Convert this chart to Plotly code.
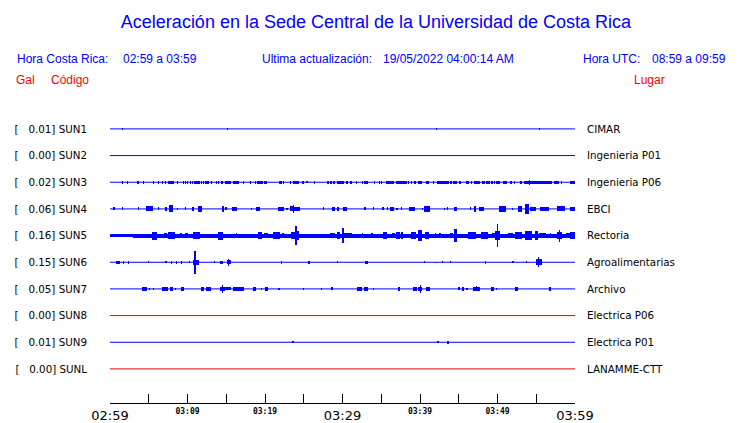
import plotly.graph_objects as go

# ---------------- data ----------------
stations = ["SUN1", "SUN2", "SUN3", "SUN4", "SUN5", "SUN6", "SUN7", "SUN8", "SUN9", "SUNL"]
peak_gal = [0.01, 0.00, 0.02, 0.06, 0.16, 0.15, 0.05, 0.00, 0.01, 0.00]
places = ["CIMAR", "Ingenieria P01", "Ingenieria P06", "EBCI", "Rectoria",
          "Agroalimentarias", "Archivo", "Electrica P06", "Electrica P01", "LANAMME-CTT"]
offline = ["SUN8", "SUNL"]

# time axis: minutes after 02:59 (local)
time_ticks = [0, 5, 10, 15, 20, 25, 30, 35, 40, 45, 50, 55, 60]
major_tick_labels = ["02:59", "", "", "", "", "", "03:29", "", "", "", "", "", "03:59"]
minor_label_times = [10, 20, 40, 50]
minor_tick_labels = ["03:09", "03:19", "03:39", "03:49"]

# bursts: (start min, end min, half amplitude in Gal)
sun1_events = [(1.61, 1.61, 0.017), (15.16, 15.16, 0.017), (42.13, 42.13, 0.017), (55.42, 55.42, 0.017)]
sun2_events = []
sun3_events = [
    (1.59, 1.59, 0.02), (2.23, 2.23, 0.02), (3.45, 3.69, 0.023), (4.30, 4.30, 0.02), (5.59, 5.59, 0.02),
    (6.23, 6.23, 0.02), (6.75, 6.75, 0.02), (7.14, 7.14, 0.02), (7.48, 8.26, 0.023), (8.74, 8.74, 0.02),
    (9.46, 9.46, 0.02), (9.72, 9.72, 0.02), (9.97, 9.97, 0.02), (10.36, 10.36, 0.02), (10.62, 10.62, 0.02),
    (10.84, 11.61, 0.023), (11.83, 11.83, 0.02), (12.09, 12.09, 0.02), (12.30, 12.81, 0.023),
    (13.12, 13.12, 0.02), (13.77, 13.77, 0.02), (14.03, 14.03, 0.02), (14.28, 14.53, 0.023),
    (14.84, 15.57, 0.023), (15.90, 16.61, 0.023), (17.25, 17.25, 0.02), (18.10, 18.10, 0.02),
    (18.75, 18.75, 0.02), (19.10, 19.10, 0.02), (19.35, 19.35, 0.02), (19.61, 19.61, 0.02),
    (19.91, 20.28, 0.023), (21.81, 22.23, 0.023), (22.41, 22.41, 0.02), (23.26, 23.26, 0.02),
    (23.57, 24.35, 0.023), (24.90, 24.90, 0.02), (25.42, 25.42, 0.015), (26.36, 26.36, 0.02),
    (28.13, 28.13, 0.02), (28.52, 28.52, 0.02), (28.81, 29.03, 0.023), (29.29, 30.23, 0.023),
    (30.41, 30.75, 0.023), (31.10, 31.10, 0.02), (31.83, 31.83, 0.02), (32.61, 32.61, 0.02),
    (32.81, 33.33, 0.023), (34.10, 34.10, 0.02), (34.75, 34.75, 0.02), (35.06, 35.06, 0.02),
    (35.65, 36.65, 0.023), (36.90, 38.28, 0.023), (38.54, 38.54, 0.02), (38.93, 38.93, 0.02),
    (39.35, 39.35, 0.02), (39.70, 40.30, 0.023), (40.77, 41.20, 0.023), (41.77, 41.77, 0.02),
    (42.19, 43.74, 0.023), (44.00, 44.00, 0.02), (44.22, 44.81, 0.023), (45.16, 45.16, 0.02),
    (45.90, 46.32, 0.023), (46.62, 46.62, 0.02), (46.97, 47.78, 0.023), (48.03, 48.39, 0.023),
    (48.55, 48.99, 0.023), (49.29, 49.29, 0.02), (49.59, 49.59, 0.02), (49.85, 50.36, 0.023),
    (50.71, 51.26, 0.023), (51.57, 51.91, 0.023), (52.22, 52.22, 0.02), (52.86, 53.20, 0.023),
    (53.38, 57.07, 0.023), (54.15, 54.15, 0.035), (57.33, 57.94, 0.023), (58.23, 58.23, 0.02),
    (59.32, 60.0, 0.023),
]
sun4_events = [
    (0.52, 0.52, 0.02), (1.59, 1.59, 0.02), (3.65, 3.65, 0.02), (4.68, 5.50, 0.036), (6.23, 6.23, 0.02),
    (7.14, 7.35, 0.025), (7.65, 8.17, 0.05), (8.74, 8.74, 0.015), (9.72, 9.72, 0.02), (10.54, 10.88, 0.031),
    (11.32, 11.91, 0.044), (14.41, 14.75, 0.04), (14.84, 15.06, 0.02), (15.70, 16.39, 0.023),
    (18.23, 18.23, 0.015), (18.88, 19.35, 0.023), (21.72, 22.49, 0.023), (22.84, 22.84, 0.015),
    (23.23, 23.55, 0.035), (23.55, 23.77, 0.057), (23.77, 24.48, 0.03), (27.57, 27.57, 0.02),
    (28.68, 29.03, 0.03), (29.29, 29.55, 0.031), (30.10, 30.58, 0.027), (32.81, 33.03, 0.02),
    (34.01, 34.01, 0.02), (35.06, 35.35, 0.02), (35.83, 35.83, 0.02), (36.09, 36.68, 0.031),
    (37.03, 37.03, 0.017), (37.63, 37.63, 0.02), (38.58, 39.35, 0.031), (40.30, 40.30, 0.015),
    (40.55, 41.25, 0.04), (43.14, 43.14, 0.015), (43.52, 43.52, 0.02), (44.39, 44.73, 0.031),
    (46.49, 46.49, 0.02), (46.93, 47.27, 0.04), (47.61, 48.28, 0.031), (50.19, 51.06, 0.04),
    (51.91, 51.91, 0.015), (52.68, 53.20, 0.047), (53.55, 54.06, 0.067), (54.23, 54.92, 0.031),
    (55.45, 56.65, 0.027), (57.68, 58.67, 0.036), (59.32, 60.0, 0.031),
]
sun5_events = [
    (0.0, 3.0, 0.018), (3.0, 60.0, 0.027),
    (5.38, 6.01, 0.057), (7.01, 7.30, 0.036), (7.43, 8.39, 0.049), (9.03, 9.32, 0.036),
    (9.68, 10.10, 0.036), (10.75, 11.61, 0.044), (13.97, 14.62, 0.057), (16.35, 16.35, 0.031),
    (19.14, 19.65, 0.049), (19.91, 20.43, 0.031), (21.07, 21.94, 0.053), (22.23, 22.49, 0.031),
    (23.35, 23.81, 0.05), (23.81, 24.19, 0.129), (24.19, 24.39, 0.06), (28.39, 29.03, 0.036),
    (29.29, 29.72, 0.047), (29.90, 30.15, 0.107), (30.23, 30.58, 0.04), (30.58, 31.18, 0.036),
    (32.48, 32.68, 0.036), (33.68, 33.97, 0.04), (35.26, 35.70, 0.044), (36.35, 36.77, 0.036),
    (36.86, 37.42, 0.049), (37.55, 37.84, 0.044), (38.80, 39.45, 0.053), (39.70, 40.30, 0.08),
    (40.65, 41.16, 0.049), (42.03, 42.03, 0.033), (42.58, 42.58, 0.03), (43.87, 44.30, 0.04),
    (44.43, 44.72, 0.093), (46.19, 47.19, 0.049), (47.90, 48.77, 0.053), (49.32, 49.63, 0.04),
    (49.63, 50.36, 0.06), (49.97, 49.97, 0.16), (51.35, 52.00, 0.036), (52.22, 53.20, 0.049),
    (53.50, 54.49, 0.063), (54.80, 55.23, 0.06), (55.35, 56.30, 0.04), (56.81, 56.81, 0.031),
    (57.68, 58.36, 0.05), (58.01, 58.01, 0.084), (58.80, 59.32, 0.036), (59.39, 59.96, 0.053),
]
sun6_events = [
    (0.74, 1.29, 0.023), (1.72, 1.72, 0.02), (2.36, 2.36, 0.02), (4.94, 4.94, 0.017), (7.23, 7.23, 0.017),
    (7.96, 7.96, 0.02), (8.61, 8.61, 0.02), (9.25, 9.25, 0.023), (10.23, 10.23, 0.017),
    (10.75, 11.48, 0.033), (10.97, 10.97, 0.16), (13.46, 13.46, 0.017), (14.19, 14.54, 0.023),
    (15.06, 15.57, 0.03), (15.26, 15.26, 0.047), (22.15, 22.15, 0.02), (25.59, 25.76, 0.02),
    (29.33, 29.33, 0.017), (32.90, 33.25, 0.023), (40.55, 40.55, 0.017), (42.10, 42.10, 0.01),
    (42.88, 42.88, 0.017), (43.91, 43.91, 0.013), (48.39, 48.55, 0.023), (52.00, 52.00, 0.017),
    (53.72, 53.72, 0.013), (54.93, 55.70, 0.04), (55.26, 55.26, 0.067),
]
sun7_events = [
    (4.09, 4.72, 0.023), (5.07, 5.07, 0.017), (5.59, 5.59, 0.017), (6.75, 7.52, 0.023), (7.74, 8.17, 0.023),
    (8.48, 8.48, 0.017), (9.16, 9.55, 0.023), (11.74, 12.17, 0.023), (12.34, 13.03, 0.023),
    (14.19, 14.84, 0.03), (14.49, 14.49, 0.053), (14.84, 15.57, 0.02), (15.91, 17.29, 0.023),
    (18.49, 18.80, 0.023), (19.57, 19.57, 0.015), (19.95, 20.43, 0.023), (21.81, 21.81, 0.013),
    (24.94, 24.94, 0.013), (27.32, 27.32, 0.013), (28.52, 28.77, 0.02), (31.83, 32.55, 0.023),
    (32.81, 33.33, 0.023), (33.97, 33.97, 0.017), (37.20, 37.42, 0.023), (39.13, 39.57, 0.023),
    (39.70, 40.30, 0.03), (40.08, 40.08, 0.053), (40.77, 41.29, 0.023), (44.94, 45.20, 0.02),
    (45.38, 45.68, 0.023), (46.06, 46.06, 0.015), (46.84, 47.70, 0.025), (47.27, 47.27, 0.036),
    (49.19, 49.50, 0.023), (49.76, 49.94, 0.017), (52.22, 52.65, 0.03), (56.65, 56.90, 0.023),
]
sun8_events = []
sun9_events = [(23.61, 23.61, 0.017), (42.32, 42.32, 0.012), (43.61, 43.61, 0.02)]
sunl_events = []

events = [sun1_events, sun2_events, sun3_events, sun4_events, sun5_events,
          sun6_events, sun7_events, sun8_events, sun9_events, sunl_events]

# ---------------- styling / layout ----------------
W, H = 740, 423
ML, MR, MT, MB = 110, 165, 0, 15
PW, PH = W - ML - MR, H - MT - MB
ROW_PX = 27.0
FIRST_ROW_PX = 130.5
PX_PER_GAL = 72.0
GAIN = PX_PER_GAL / ROW_PX          # row units per Gal
MIN_W = 0.16                        # minutes (~1.2 px)
BLUE = "#0000ff"
RED = "#e00000"

y_top = -(FIRST_ROW_PX - MT) / ROW_PX
y_bot = (H - MB - FIRST_ROW_PX) / ROW_PX

fig = go.Figure()
rows = list(range(len(stations)))
for k, (st, ev) in enumerate(zip(stations, events)):
    col = RED if st in offline else BLUE
    fig.add_trace(go.Scatter(x=[time_ticks[0], time_ticks[-1]], y=[k, k], mode="lines",
                             line=dict(color=col, width=1), hoverinfo="skip"))
    if ev:
        xs = [(a + b) / 2 for a, b, _ in ev]
        ws = [max(b - a, MIN_W) for a, b, _ in ev]
        hs = [2 * g * GAIN for _, _, g in ev]
        bs = [k - g * GAIN for _, _, g in ev]
        fig.add_trace(go.Bar(x=xs, y=hs, base=bs, width=ws, marker=dict(color=col, line=dict(width=0)),
                             hoverinfo="skip"))

# invisible trace to activate the second x axis and right y axis
fig.add_trace(go.Scatter(x=[0, 60], y=[0, 0], xaxis="x2", yaxis="y2", mode="lines",
                         line=dict(width=0), opacity=0, hoverinfo="skip"))

left_labels = ["[\u00a0\u00a0\u00a0%.2f] %s" % (p, s) for p, s in zip(peak_gal, stations)]

fig.update_layout(
    width=W, height=H, margin=dict(l=ML, r=MR, t=MT, b=MB, pad=0),
    paper_bgcolor="white", plot_bgcolor="white", showlegend=False, barmode="overlay", bargap=0,
    title=dict(text="Aceleración en la Sede Central de la Universidad de Costa Rica",
               x=376 / W, xanchor="center", y=1 - 22 / H, yanchor="middle", xref="container", yref="container",
               font=dict(family="Liberation Sans", size=18, color=BLUE)),
    xaxis=dict(range=[0, 60], showgrid=False, zeroline=False, showline=True, linecolor="black", linewidth=1,
               ticks="inside", ticklen=9, tickcolor="black", tickwidth=1,
               tickvals=time_ticks, ticktext=major_tick_labels,
               tickfont=dict(family="DejaVu Sans", size=13, color="black"), fixedrange=True),
    xaxis2=dict(range=[0, 60], overlaying="x", side="bottom", anchor="y", showgrid=False, zeroline=False,
                showline=False, ticks="", tickvals=minor_label_times, ticktext=minor_tick_labels,
                ticklabelstandoff=2,
                tickfont=dict(family="DejaVu Sans Mono", size=8, color="black", weight="bold")),
    yaxis=dict(range=[y_bot, y_top], showgrid=False, zeroline=False, showline=False, ticks="",
               tickvals=rows, ticktext=left_labels, ticklabelstandoff=22,
               tickfont=dict(family="DejaVu Sans", size=10.3, color="black")),
    yaxis2=dict(range=[y_bot, y_top], overlaying="y", side="right", anchor="x", showgrid=False, zeroline=False,
                showline=False, ticks="", tickvals=rows, ticktext=places, ticklabelstandoff=11,
                tickfont=dict(family="DejaVu Sans", size=10.3, color="black")),
)

def px_x(px):
    return (px - ML) / PW

def px_y(py):
    return (H - MB - py) / PH

hdr = dict(family="Liberation Sans", size=12, color=BLUE)
red = dict(family="Liberation Sans", size=12, color="#ff0000")
ann = [
    ("Hora Costa Rica:", 16, 60, "left", hdr),
    ("02:59 a 03:59", 122, 60, "left", hdr),
    ("Ultima actualización:", 261, 60, "left", hdr),
    ("19/05/2022 04:00:14 AM", 382, 60, "left", hdr),
    ("Hora UTC:", 582, 60, "left", hdr),
    ("08:59 a 09:59", 727, 60, "right", hdr),
    ("Gal", 15, 81, "left", red),
    ("Código", 50, 81, "left", red),
    ("Lugar", 633, 81, "left", red),
]
for text, px, py, anchor, f in ann:
    fig.add_annotation(text=text, x=px_x(px), y=px_y(py), xref="paper", yref="paper",
                       xanchor=anchor, yanchor="middle", showarrow=False, font=f, borderpad=0)

page_fix = (
    "var d=document.documentElement.style, b=document.body.style;"
    "d.margin='0';d.padding='0';d.overflow='hidden';"
    "b.margin='0';b.padding='0';b.overflow='hidden';"
)
fig.write_html("out.html", config={"displayModeBar": False, "staticPlot": True}, post_script=page_fix)
